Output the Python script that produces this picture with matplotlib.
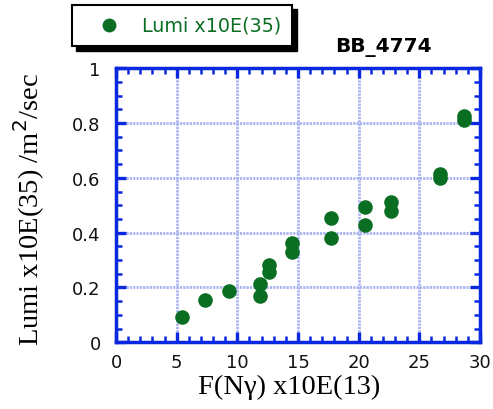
import numpy as np
import matplotlib
matplotlib.use("Agg")
import matplotlib.pyplot as plt
from matplotlib.patches import Rectangle
from matplotlib.lines import Line2D
from matplotlib.ticker import MultipleLocator

# F(N gamma) x1E13 vs luminosity x1E35
flux = [5.45, 7.35, 9.35, 11.9, 11.9, 12.6, 12.6, 14.5, 14.5,
        17.7, 17.7, 20.5, 20.5, 22.7, 22.7, 26.7, 26.7, 28.7, 28.7]
lumi = [0.091, 0.153, 0.188, 0.211, 0.168, 0.281, 0.257, 0.364, 0.329,
        0.452, 0.380, 0.493, 0.429, 0.511, 0.479, 0.616, 0.598, 0.826, 0.812]

x_ticks = [0, 5, 10, 15, 20, 25, 30]
y_ticks = [0, 0.2, 0.4, 0.6, 0.8, 1]
y_tick_labels = ["0", "0.2", "0.4", "0.6", "0.8", "1"]

series_label = "Lumi x10E(35)"
run_name = "BB_4774"

BLUE = "#0a28e0"
GREEN = "#0a6e22"
GRID = "#a9b3f2"

fig = plt.figure(figsize=(4.93, 4.10), dpi=100)
ax = fig.add_axes([0.2353, 0.1627, 0.7383, 0.6683])

ax.scatter(flux, lumi, s=110, color=GREEN, zorder=3, linewidths=0)

ax.set_xlim(0, 30)
ax.set_ylim(0, 1)
ax.set_xticks(x_ticks)
ax.set_xticklabels([str(t) for t in x_ticks])
ax.set_yticks(y_ticks)
ax.set_yticklabels(y_tick_labels)
ax.xaxis.set_minor_locator(MultipleLocator(1))
ax.yaxis.set_minor_locator(MultipleLocator(0.05))

ax.tick_params(which="both", direction="in", colors=BLUE, top=True, right=True,
               labelcolor="#111111", labelsize=13)
ax.tick_params(axis="x", which="both", pad=8)
ax.tick_params(axis="y", which="both", pad=11)
ax.tick_params(which="major", length=7.5, width=2.4)
ax.tick_params(which="minor", length=4.5, width=1.8)
for sp in ax.spines.values():
    sp.set_edgecolor(BLUE)
    sp.set_linewidth(2.5)

ax.grid(True, which="major", color=GRID, linestyle=(0, (0.8, 0.4)), linewidth=2.0)
ax.set_axisbelow(True)

ax.set_xlabel("F(N\u03b3) x10E(13)", family="Liberation Serif", fontsize=20.5)
ax.xaxis.set_label_coords(0.475, -0.115)
ax.set_ylabel("Lumi x10E(35) /m$^2$/sec", family="Liberation Serif", fontsize=20.5)
ax.yaxis.set_label_coords(-0.19, 0.49)

# run name above the frame
fig.text(0.777, 0.883, run_name, fontsize=14.5, fontweight="bold", ha="center", va="center")

# boxed legend with a hard black drop shadow
W, H = 493.0, 410.0
fig.patches.append(Rectangle((76 / W, 1 - 52 / H), 221 / W, 42 / H, transform=fig.transFigure,
                             facecolor="black", edgecolor="black", zorder=1))
fig.patches.append(Rectangle((72 / W, 1 - 47 / H), 220 / W, 41 / H, transform=fig.transFigure,
                             facecolor="white", edgecolor="black", linewidth=1.5, zorder=2))
fig.lines.append(Line2D([109 / W], [1 - 26 / H], transform=fig.transFigure, marker="o",
                        markersize=10, color=GREEN, markeredgewidth=0, zorder=3))
fig.text(142 / W, 1 - 26 / H, series_label, color=GREEN, fontsize=13.8, va="center",
         ha="left", zorder=4)

fig.savefig("out.png", dpi=100)
